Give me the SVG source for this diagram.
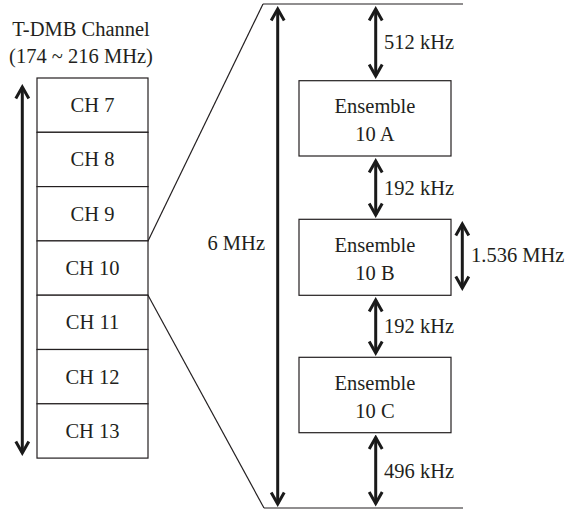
<svg xmlns="http://www.w3.org/2000/svg" width="566" height="511" viewBox="0 0 566 511">
<style>
text{font-family:"Liberation Serif","Times New Roman",serif;font-size:20.5px;fill:#231f20}
.c{text-anchor:middle}
.box{fill:#fff;stroke:#231f20;stroke-width:1.2}
.thin{stroke:#231f20;stroke-width:1.2;fill:none}
.arr{stroke:#1a1a1a;stroke-width:3;fill:none;marker-start:url(#ah);marker-end:url(#ah)}
</style>
<defs>
<marker id="ah" markerUnits="userSpaceOnUse" viewBox="-15 -10 18 20" markerWidth="18" markerHeight="20" refX="0" refY="0" orient="auto-start-reverse">
<path d="M-11.5,-6.5 L0,0 L-11.5,6.5" fill="none" stroke="#1a1a1a" stroke-width="3" stroke-linejoin="miter"/>
</marker>
</defs>
<rect width="566" height="511" fill="#fff"/>
<g id="title">
<text x="81" y="36" class="c">T-DMB Channel</text>
<text x="81" y="63" class="c">(174 ~ 216 MHz)</text>
</g>
<g id="ch7"><rect class="box" x="37" y="78" width="111" height="54.3"/><text x="92.5" y="112" class="c">CH 7</text></g>
<g id="ch8"><rect class="box" x="37" y="132.3" width="111" height="54.3"/><text x="92.5" y="166.3" class="c">CH 8</text></g>
<g id="ch9"><rect class="box" x="37" y="186.6" width="111" height="54.3"/><text x="92.5" y="220.6" class="c">CH 9</text></g>
<g id="ch10"><rect class="box" x="37" y="240.9" width="111" height="54.3"/><text x="92.5" y="274.9" class="c">CH 10</text></g>
<g id="ch11"><rect class="box" x="37" y="295.2" width="111" height="54.3"/><text x="92.5" y="329.2" class="c">CH 11</text></g>
<g id="ch12"><rect class="box" x="37" y="349.5" width="111" height="54.3"/><text x="92.5" y="383.5" class="c">CH 12</text></g>
<g id="ch13"><rect class="box" x="37" y="403.8" width="111" height="54.3"/><text x="92.5" y="437.8" class="c">CH 13</text></g>
<g id="ens10a"><rect class="box" x="299" y="80.7" width="152" height="75.3"/><text x="375" y="113" class="c">Ensemble</text><text x="375" y="141" class="c">10 A</text></g>
<g id="ens10b"><rect class="box" x="299" y="219.3" width="152" height="76"/><text x="375" y="252" class="c">Ensemble</text><text x="375" y="280" class="c">10 B</text></g>
<g id="ens10c"><rect class="box" x="299" y="357.3" width="152" height="75.4"/><text x="375" y="390" class="c">Ensemble</text><text x="375" y="418" class="c">10 C</text></g>
<g id="connectors">
<line class="thin" x1="148" y1="241" x2="263" y2="4"/>
<line class="thin" x1="148" y1="295.2" x2="264" y2="508"/>
<line class="thin" x1="263" y1="4" x2="463" y2="4" stroke="#555"/>
<line class="thin" x1="264" y1="508" x2="463" y2="508" stroke="#555"/>
<line class="arr" x1="22.3" y1="87" x2="22.3" y2="453"/>
<line class="arr" x1="277.7" y1="9" x2="277.7" y2="504"/>
<line class="arr" x1="375.7" y1="9" x2="375.7" y2="76"/>
<line class="arr" x1="375.7" y1="161" x2="375.7" y2="215"/>
<line class="arr" x1="375.7" y1="300" x2="375.7" y2="353"/>
<line class="arr" x1="375.7" y1="437.5" x2="375.7" y2="503.5"/>
<line class="arr" x1="462.3" y1="224" x2="462.3" y2="288"/>
</g>
<g id="labels">
<text x="265" y="250" text-anchor="end">6 MHz</text>
<text x="384" y="49">512 kHz</text>
<text x="384" y="195">192 kHz</text>
<text x="384" y="333">192 kHz</text>
<text x="384" y="478">496 kHz</text>
<text x="471" y="262">1.536 MHz</text>
</g>
</svg>
